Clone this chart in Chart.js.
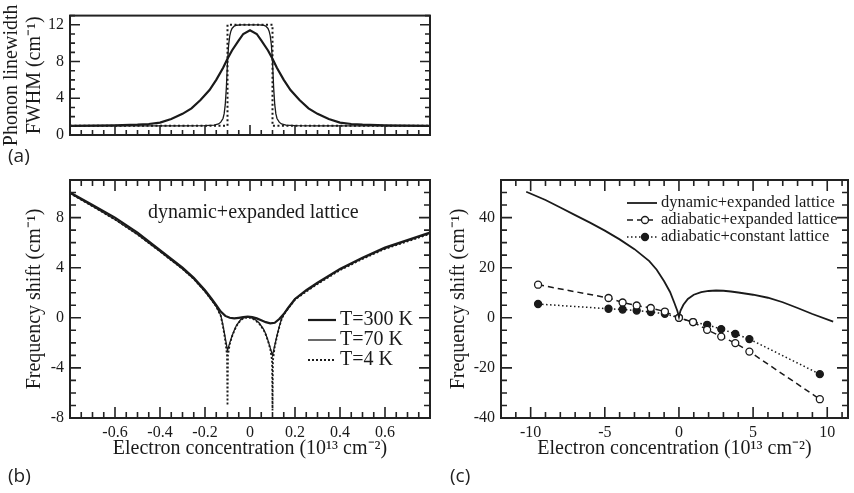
<!doctype html>
<html lang="en">
<head>
<meta charset="utf-8">
<title>Phonon linewidth and frequency shift vs electron concentration</title>
<script src="https://cdn.jsdelivr.net/npm/chart.js@4.4.1/dist/chart.umd.min.js"></script>
<style>
body { margin: 0; background: #ffffff; }
#fig { position: relative; width: 854px; height: 493px; overflow: hidden; }
#fig canvas { position: absolute; left: 0; top: 0; }
.panel-tag { position: absolute; font: 19px "Open Sans", sans-serif; color: #222; line-height: 1; }
</style>
</head>
<body>
<div id="fig">
  <canvas id="panelA" width="854" height="493"></canvas>
  <canvas id="panelB" width="854" height="493"></canvas>
  <canvas id="panelC" width="854" height="493"></canvas>
</div>
<script>
// ---- panel (a): phonon linewidth FWHM ----
var aX300 = [-0.8,-0.7,-0.6,-0.5,-0.45,-0.4,-0.35,-0.3,-0.26,-0.22,-0.18,-0.15,-0.12,-0.1,-0.08,-0.05,-0.03,0,0.03,0.05,0.08,0.1,0.12,0.15,0.18,0.22,0.26,0.3,0.35,0.4,0.45,0.5,0.6,0.7,0.8];
var aY300 = [1.0,1.02,1.05,1.12,1.2,1.35,1.75,2.3,2.9,3.8,4.9,6.0,7.3,8.3,9.2,10.3,11.0,11.4,11.0,10.3,9.2,8.3,7.3,6.0,4.9,3.8,2.9,2.3,1.75,1.35,1.2,1.12,1.05,1.02,1.0];
var aX70 = [-0.8,-0.3,-0.2,-0.16,-0.14,-0.13,-0.12,-0.115,-0.11,-0.105,-0.1,-0.095,-0.09,-0.085,-0.08,-0.07,-0.06,-0.04,0,0.04,0.06,0.07,0.08,0.085,0.09,0.095,0.1,0.105,0.11,0.115,0.12,0.13,0.14,0.16,0.2,0.3,0.8];
var aY70 = [1.0,1.0,1.02,1.08,1.2,1.4,1.8,2.3,3.3,5.2,8.0,9.8,10.8,11.3,11.6,11.85,11.95,12.0,12.0,12.0,11.95,11.85,11.6,11.3,10.8,9.8,8.0,5.2,3.3,2.3,1.8,1.4,1.2,1.08,1.02,1.0,1.0];
var aX4 = [-0.8,-0.1,-0.1,0.1,0.1,0.8];
var aY4 = [1.0,1.0,12.0,12.0,1.0,1.0];
var aYTicks = [0,4,8,12];

// ---- panel (b): frequency shift, small doping ----
var bX300 = [-0.8,-0.7,-0.6,-0.5,-0.4,-0.3,-0.25,-0.2,-0.17,-0.15,-0.13,-0.11,-0.09,-0.07,-0.05,-0.03,-0.01,0.01,0.03,0.05,0.07,0.09,0.11,0.13,0.15,0.17,0.2,0.25,0.3,0.4,0.5,0.6,0.7,0.8];
var bY300 = [10.0,9.0,8.0,6.8,5.4,4.0,3.2,2.2,1.5,1.0,0.5,0.15,0.0,-0.05,0.0,0.05,0.1,0.05,-0.05,-0.2,-0.35,-0.45,-0.4,-0.1,0.3,0.8,1.5,2.2,2.8,3.9,4.8,5.6,6.2,6.8];
var bX70 = [-0.8,-0.7,-0.6,-0.5,-0.4,-0.3,-0.25,-0.2,-0.17,-0.15,-0.13,-0.12,-0.11,-0.1,-0.09,-0.08,-0.07,-0.06,-0.04,-0.02,0,0.02,0.04,0.06,0.07,0.08,0.09,0.1,0.11,0.12,0.13,0.14,0.15,0.17,0.2,0.25,0.3,0.4,0.5,0.6,0.7,0.8];
var bY70 = [9.95,8.9,7.85,6.65,5.3,3.9,3.1,2.1,1.4,0.9,0.2,-0.6,-1.6,-2.6,-2.0,-1.45,-1.0,-0.6,-0.1,0.05,0.05,-0.1,-0.4,-0.9,-1.3,-1.8,-2.4,-3.0,-2.2,-1.4,-0.7,-0.1,0.3,0.8,1.5,2.15,2.75,3.85,4.75,5.55,6.15,6.75];
var bX4 = [-0.8,-0.7,-0.6,-0.5,-0.4,-0.3,-0.25,-0.2,-0.17,-0.15,-0.13,-0.12,-0.11,-0.102,-0.1,-0.098,-0.09,-0.08,-0.07,-0.06,-0.04,-0.02,0,0.02,0.04,0.06,0.07,0.08,0.09,0.098,0.1,0.102,0.11,0.12,0.13,0.14,0.15,0.17,0.2,0.25,0.3,0.4,0.5,0.6,0.7,0.8];
var bY4 = [9.95,8.9,7.85,6.65,5.3,3.9,3.1,2.1,1.4,0.9,0.15,-0.7,-1.8,-3.0,-7.0,-3.0,-2.1,-1.5,-1.05,-0.65,-0.15,0.0,0.0,-0.15,-0.45,-0.95,-1.35,-1.85,-2.5,-3.4,-7.4,-3.4,-2.3,-1.5,-0.75,-0.15,0.25,0.75,1.45,2.1,2.7,3.8,4.7,5.5,6.1,6.7];
var bXTicks = [-0.6,-0.4,-0.2,0,0.2,0.4,0.6];
var bYTicks = [-8,-4,0,4,8];

// ---- panel (c): frequency shift, large doping ----
var cXdyn = [-10.3,-9,-8,-7,-6,-5,-4,-3,-2,-1.5,-1,-0.6,-0.3,-0.1,0,0.1,0.3,0.6,1,1.5,2,2.5,3,3.5,4,5,6,7,8,9,10.4];
var cYdyn = [50.3,47.0,44.0,41.0,38.0,34.8,31.3,27.4,22.6,19.2,14.6,10.3,5.8,2.6,0.3,2.8,5.2,7.5,9.2,10.2,10.7,10.9,10.8,10.5,10.1,9.2,8.0,6.2,3.9,1.5,-1.5];
var cX = [-9.5,-4.75,-3.8,-2.85,-1.9,-0.95,0,0.95,1.9,2.85,3.8,4.75,9.5];
var cYadExp = [13.2,7.9,6.1,4.9,3.9,2.5,0,-1.7,-4.8,-7.5,-10.1,-13.5,-32.5];
var cYadConst = [5.5,3.6,3.3,2.9,2.3,1.6,0,-1.7,-2.8,-4.5,-6.4,-8.5,-22.5];
var cXTicks = [-10,-5,0,5,10];
var cYTicks = [-40,-20,0,20,40];

var SERIF = "'Liberation Serif', 'Times New Roman', serif";
var INK = "#1a1a1a";
Chart.defaults.color = INK;
Chart.defaults.font.family = SERIF;

function pts(xs, ys) {
    return xs.map(function (x, i) { return { x: x, y: ys[i] }; });
}

function curve(label, xs, ys, width, dash) {
    return {
        label: label,
        data: pts(xs, ys),
        borderColor: INK,
        borderWidth: width,
        borderDash: dash || [],
        pointRadius: 0,
        tension: 0,
        fill: false,
    };
}

// frame with inward ticks (major + minor) and an optional inside legend
function framePlugin(t, name) {
    return {
        id: "frame" + name,
        afterDraw: function (chart) {
            var ctx = chart.ctx, area = chart.chartArea;
            ctx.save();
            ctx.setLineDash([]);
            ctx.globalAlpha = 1;
            ctx.strokeStyle = "#222";
            ctx.lineWidth = 1.6;
            function marks(scale, minor, major, isX) {
                var first = Math.ceil(scale.min / minor - 1e-6);
                var last = Math.floor(scale.max / minor + 1e-6);
                for (var k = first; k <= last; k++) {
                    var v = k * minor;
                    var r = v / major;
                    var len = Math.abs(r - Math.round(r)) < 1e-6 ? t.majorLen : t.minorLen;
                    var p = scale.getPixelForValue(v);
                    ctx.beginPath();
                    if (isX) {
                        ctx.moveTo(p, area.bottom); ctx.lineTo(p, area.bottom - len);
                        if (t.top) { ctx.moveTo(p, area.top); ctx.lineTo(p, area.top + len); }
                    } else {
                        ctx.moveTo(area.left, p); ctx.lineTo(area.left + len, p);
                        ctx.moveTo(area.right, p); ctx.lineTo(area.right - len, p);
                    }
                    ctx.stroke();
                }
            }
            marks(chart.scales.x, t.xMinor, t.xMajor, true);
            marks(chart.scales.y, t.yMinor, t.yMajor, false);
            ctx.lineWidth = 2;
            ctx.strokeRect(area.left, area.top, area.right - area.left, area.bottom - area.top);

            var lg = t.legend;
            if (lg) {
                ctx.fillStyle = INK;
                ctx.textBaseline = "middle";
                if (lg.note) {
                    ctx.font = lg.note.font;
                    ctx.fillText(lg.note.text, lg.note.x, lg.note.y);
                }
                ctx.font = lg.font;
                chart.data.datasets.forEach(function (ds, i) {
                    var y = lg.y + i * lg.dy;
                    ctx.strokeStyle = INK;
                    ctx.lineWidth = ds.borderWidth;
                    ctx.setLineDash(ds.borderDash || []);
                    ctx.beginPath();
                    ctx.moveTo(lg.x, y);
                    ctx.lineTo(lg.x + lg.len, y);
                    ctx.stroke();
                    ctx.setLineDash([]);
                    if (ds.pointRadius) {
                        ctx.beginPath();
                        ctx.arc(lg.x + lg.len / 2 + 3, y, ds.pointRadius, 0, Math.PI * 2);
                        ctx.fillStyle = ds.pointBackgroundColor;
                        ctx.fill();
                        ctx.lineWidth = ds.pointBorderWidth;
                        ctx.stroke();
                        ctx.fillStyle = INK;
                    }
                    ctx.fillText(ds.label, lg.x + lg.len + lg.gap, y);
                });
            }
            ctx.restore();
        },
    };
}

function fixedTicks(values) {
    return function (scale) {
        scale.ticks = values.map(function (v) { return { value: v }; });
    };
}

function yAxis(min, max, ticks, title, titlePad, width) {
    return {
        type: "linear",
        min: min,
        max: max,
        afterBuildTicks: fixedTicks(ticks),
        afterFit: function (s) { s.width = width; },
        grid: { display: false, drawTicks: false },
        border: { display: false },
        ticks: { font: { size: 16, family: SERIF }, padding: 6 },
        title: {
            display: true,
            text: title,
            font: { size: 20, family: SERIF, lineHeight: 1.15 },
            padding: { top: titlePad, bottom: 0 },
        },
    };
}

function xAxis(min, max, ticks) {
    return {
        type: "linear",
        min: min,
        max: max,
        afterBuildTicks: fixedTicks(ticks),
        afterFit: function (s) { s.height = 42; },
        grid: { display: false, drawTicks: false },
        border: { display: false },
        ticks: {
            font: { size: 16, family: SERIF },
            padding: 5,
            maxRotation: 0,
            callback: function (v) { return String(v); },
        },
        title: {
            display: true,
            text: "Electron concentration (10\u00b9\u00b3 cm\u207b\u00b2)",
            font: { size: 20, family: SERIF, lineHeight: 1.15 },
            padding: { top: 0, bottom: 0 },
        },
    };
}

function chartOptions(padding, scales) {
    return {
        responsive: false,
        animation: false,
        devicePixelRatio: 1,
        events: [],
        layout: { padding: padding },
        scales: scales,
        plugins: { legend: { display: false }, tooltip: { enabled: false } },
    };
}

new Chart(document.getElementById("panelA"), {
    type: "line",
    data: {
        datasets: [
            curve("T=300 K", aX300, aY300, 2.2),
            curve("T=70 K", aX70, aY70, 1.3),
            curve("T=4 K", aX4, aY4, 2, [2, 2.5]),
        ],
    },
    options: chartOptions({ left: 0, top: 15, right: 424, bottom: 358 }, {
        x: { type: "linear", min: -0.8, max: 0.8, display: false },
        y: yAxis(0, 13, aYTicks, ["Phonon linewidth", "FWHM (cm\u207b\u00b9)"], 0, 70),
    }),
    plugins: [framePlugin({ xMinor: 0.05, xMajor: 0.2, yMinor: 1, yMajor: 4, majorLen: 10, minorLen: 5, top: false }, "A")],
});

new Chart(document.getElementById("panelB"), {
    type: "line",
    data: {
        datasets: [
            curve("T=300 K", bX300, bY300, 2.2),
            curve("T=70 K", bX70, bY70, 1.3),
            curve("T=4 K", bX4, bY4, 1.8, [2, 2]),
        ],
    },
    options: chartOptions({ left: 0, top: 180, right: 424, bottom: 33 }, {
        x: xAxis(-0.8, 0.8, bXTicks),
        y: yAxis(-8, 11, bYTicks, "Frequency shift (cm\u207b\u00b9)", 23.5, 70),
    }),
    plugins: [framePlugin({
        xMinor: 0.05, xMajor: 0.2, yMinor: 1, yMajor: 4, majorLen: 11, minorLen: 6, top: true,
        legend: {
            x: 308, y: 320, dy: 20, len: 28, gap: 4,
            font: "20px " + SERIF,
            note: { text: "dynamic+expanded lattice", x: 148, y: 213, font: "20px " + SERIF },
        },
    }, "B")],
});

var adExp = curve("adiabatic+expanded lattice", cX, cYadExp, 1.5, [6, 4]);
adExp.pointRadius = 3.5;
adExp.pointBackgroundColor = "#fff";
adExp.pointBorderColor = INK;
adExp.pointBorderWidth = 1.3;
var adConst = curve("adiabatic+constant lattice", cX, cYadConst, 1.5, [1.5, 2.5]);
adConst.pointRadius = 3.5;
adConst.pointBackgroundColor = INK;
adConst.pointBorderColor = INK;
adConst.pointBorderWidth = 1.3;

new Chart(document.getElementById("panelC"), {
    type: "line",
    data: {
        datasets: [
            curve("dynamic+expanded lattice", cXdyn, cYdyn, 1.8),
            adExp,
            adConst,
        ],
    },
    options: chartOptions({ left: 440, top: 180, right: 6, bottom: 33 }, {
        x: xAxis(-12, 11.4, cXTicks),
        y: yAxis(-40, 55, cYTicks, "Frequency shift (cm\u207b\u00b9)", 7.5, 61),
    }),
    plugins: [framePlugin({
        xMinor: 1, xMajor: 5, yMinor: 5, yMajor: 20, majorLen: 11, minorLen: 6, top: true,
        legend: { x: 627, y: 203, dy: 17, len: 30, gap: 4, font: "16.5px " + SERIF },
    }, "C")],
});

[["(a)", 8, 146], ["(b)", 8, 466], ["(c)", 450, 466]].forEach(function (g) {
    var d = document.createElement("div");
    d.className = "panel-tag";
    d.textContent = g[0];
    d.style.left = g[1] + "px";
    d.style.top = g[2] + "px";
    document.getElementById("fig").appendChild(d);
});
</script>
</body>
</html>
